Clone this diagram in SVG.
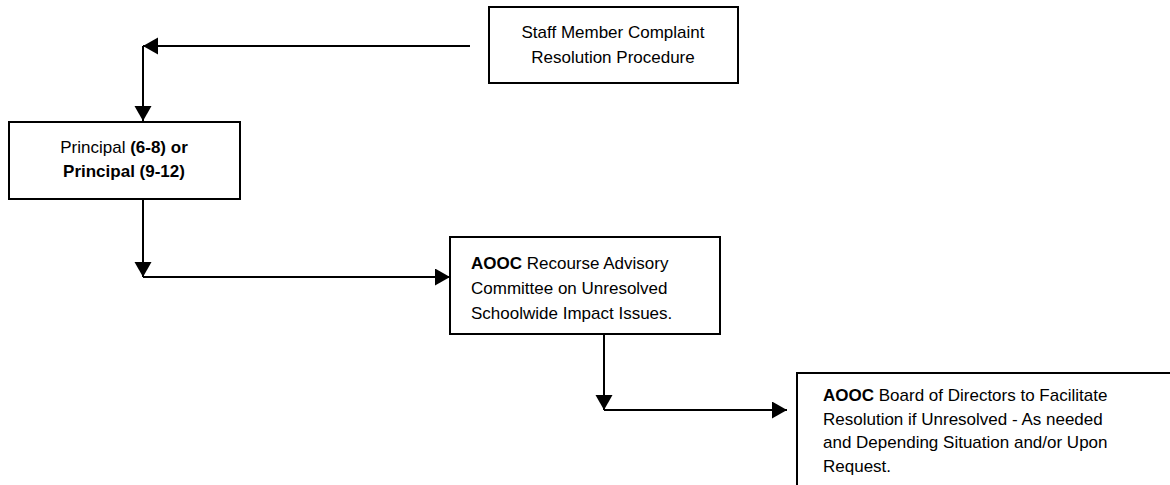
<svg xmlns="http://www.w3.org/2000/svg" width="1170" height="485" viewBox="0 0 1170 485">
<style>
.box{fill:#fff;stroke:#000;stroke-width:2}
.t{font-family:"Liberation Sans",Arial,sans-serif;font-size:17px;fill:#000}
.c{text-anchor:middle}
.b{font-weight:bold}
.conn{fill:none;stroke:#000;stroke-width:2;marker-end:url(#ah)}
</style>
<defs>
<marker id="ah" markerUnits="userSpaceOnUse" markerWidth="16" markerHeight="18" refX="15" refY="8.5" orient="auto">
<path d="M0,0 L15,8.5 L0,17 z" fill="#000"/>
</marker>
</defs>
<rect width="1170" height="485" fill="#fff"/>
<g id="connectors">
<path class="conn" d="M470,46 H143"/>
<path class="conn" d="M143,46 V121"/>
<path class="conn" d="M143,199 V277"/>
<path class="conn" d="M143,277 H450"/>
<path class="conn" d="M604,334 V410"/>
<path class="conn" d="M604,410 H787"/>
</g>
<g id="staff">
<rect class="box" x="489" y="7" width="249" height="76"/>
<text class="t c" x="613" y="38">Staff Member Complaint</text>
<text class="t c" x="613" y="63">Resolution Procedure</text>
</g>
<g id="principal">
<rect class="box" x="9" y="122" width="231" height="77"/>
<text class="t c" x="124" y="153">Principal <tspan class="b">(6-8) or</tspan></text>
<text class="t c b" x="124" y="177">Principal (9-12)</text>
</g>
<g id="committee">
<rect class="box" x="450" y="237" width="270" height="97"/>
<text class="t" x="471" y="269"><tspan class="b">AOOC</tspan> Recourse Advisory</text>
<text class="t" x="471" y="294">Committee on Unresolved</text>
<text class="t" x="471" y="319">Schoolwide Impact Issues.</text>
</g>
<g id="board">
<rect class="box" x="797" y="373" width="380" height="130"/>
<text class="t" x="823" y="401"><tspan class="b">AOOC</tspan> Board of Directors to Facilitate</text>
<text class="t" x="823" y="425">Resolution if Unresolved - As needed</text>
<text class="t" x="823" y="448">and Depending Situation and/or Upon</text>
<text class="t" x="823" y="472">Request.</text>
</g>
</svg>
